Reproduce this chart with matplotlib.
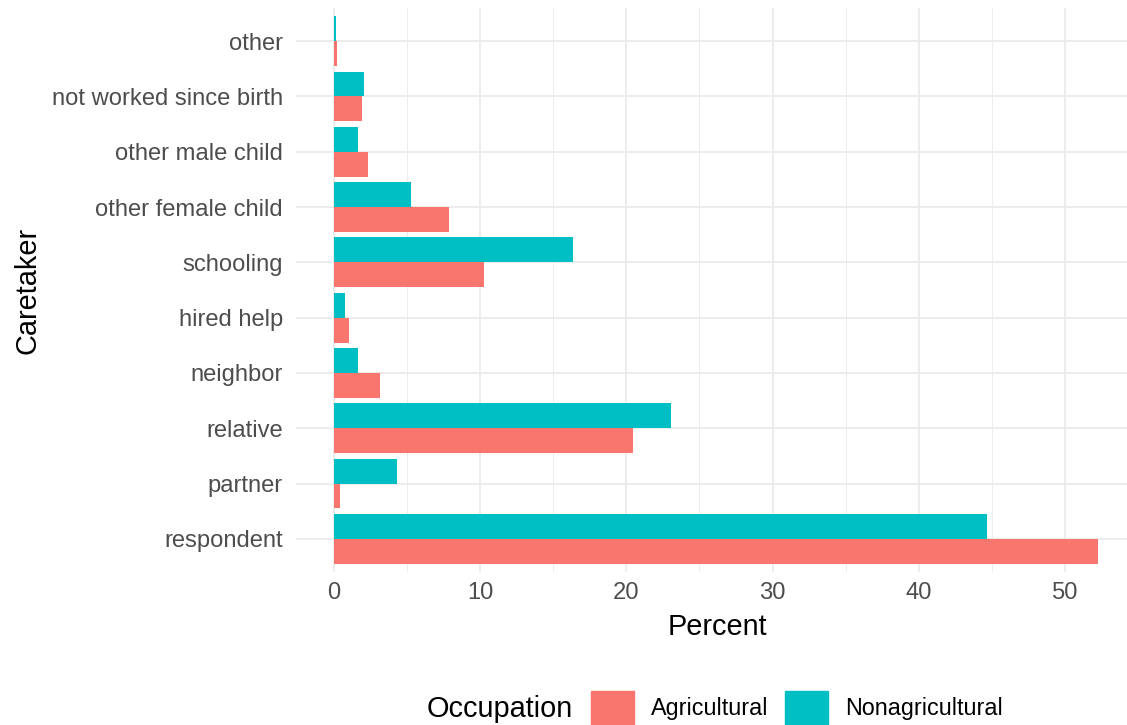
import matplotlib
matplotlib.use("Agg")
import matplotlib.pyplot as plt
import matplotlib.patches as mpatches
import numpy as np

plt.rcParams['font.family'] = ['Liberation Sans', 'DejaVu Sans']

# Data (bottom to top)
categories = ["respondent", "partner", "relative", "neighbor", "hired help",
              "schooling", "other female child", "other male child",
              "not worked since birth", "other"]
agricultural = [52.3, 0.41, 20.45, 3.14, 1.02, 10.29, 7.84, 2.32, 1.91, 0.2]
nonagricultural = [44.7, 4.29, 23.05, 1.64, 0.75, 16.36, 5.25, 1.64, 2.04, 0.14]
series_names = ["Agricultural", "Nonagricultural"]
colors = ["#F8766D", "#00BFC4"]
x_ticks = [0, 10, 20, 30, 40, 50]

W, H = 1127, 725
fig = plt.figure(figsize=(W / 100, H / 100), dpi=100)
ax = fig.add_axes([296 / W, 153 / H, (1127 - 296) / W, (572 - 8) / H])

y = np.arange(1, len(categories) + 1)
bw = 0.45
ax.barh(y - bw / 2, agricultural, height=bw, color=colors[0], zorder=3)
ax.barh(y + bw / 2, nonagricultural, height=bw, color=colors[1], zorder=3)

ax.set_xlim(-2.6, 54.25)
ax.set_ylim(0.4, len(categories) + 0.6)
ax.set_yticks(y)
ax.set_yticklabels(categories)
ax.set_xticks(x_ticks)
ax.set_xticks([5, 15, 25, 35, 45], minor=True)
ax.grid(True, which='major', color='#EBEBEB', linewidth=1.3, zorder=0)
ax.grid(True, which='minor', axis='x', color='#EBEBEB', linewidth=0.65, zorder=0)
ax.tick_params(axis='both', which='both', length=0, labelsize=17.1, labelcolor='#4D4D4D')
ax.tick_params(axis='y', pad=9.5)
ax.tick_params(axis='x', pad=7)
for s in ax.spines.values():
    s.set_visible(False)

ax.set_xlabel("Percent", fontsize=20.8, labelpad=6)
ax.xaxis.set_label_coords((717 - 296) / (1127 - 296), -0.072)
ax.set_ylabel("Caretaker", fontsize=20.8, labelpad=7)

# Legend
fig.text(427 / W, 1 - 709 / H, "Occupation", fontsize=20.8, va='center', ha='left')
handles = [mpatches.Patch(color=c, label=n) for c, n in zip(colors, series_names)]
leg = fig.legend(handles=handles, loc='center left', bbox_to_anchor=(591 / W, 1 - 708 / H),
                 ncol=2, frameon=False, fontsize=16.8, handlelength=1.85, handleheight=1.85,
                 handletextpad=0.73, columnspacing=0.69, borderaxespad=0, borderpad=0)

fig.savefig("out.png", dpi=100)
